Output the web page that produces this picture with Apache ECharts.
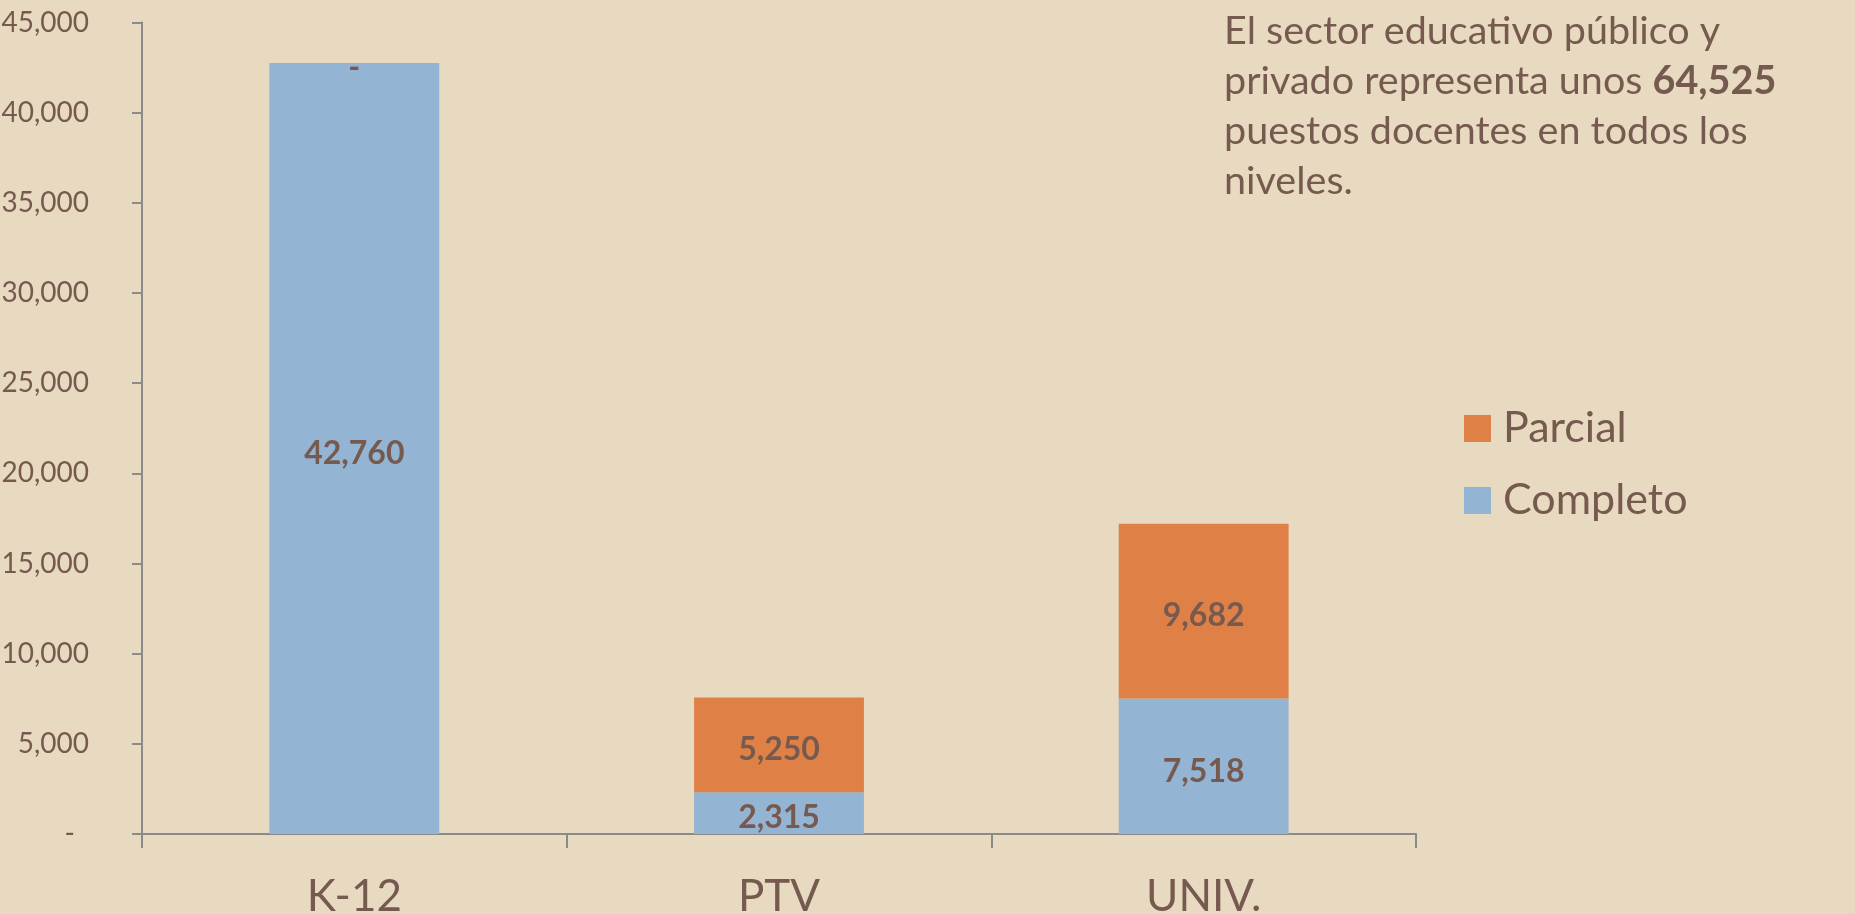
<!DOCTYPE html>
<html>
<head>
<meta charset="utf-8">
<script src="https://cdn.jsdelivr.net/npm/echarts@6/dist/echarts.min.js"></script>
<style>
    html, body { margin: 0; padding: 0; background: #e8dac0; }
    #chart { width: 1855px; height: 914px; }
</style>
</head>
<body>
<div id="chart"></div>
<script>
// datos del gráfico
const categories = ['K-12', 'PTV', 'UNIV.'];
const completo = [42760, 2315, 7518];
const parcial = [0, 5250, 9682];
const seriesNames = ['Completo', 'Parcial'];
const noteLines = [
    'El sector educativo público y',
    'privado representa unos {b|64,525}',
    'puestos docentes en todos los',
    'niveles.'
];

const textColor = '#765a50';
const fontFamily = 'Lato, "Open Sans", sans-serif';

// formato contable: cero se muestra como guion
function fmt(v) {
    if (v === 0) return '-';
    return v.toLocaleString('en-US');
}

const chart = echarts.init(document.getElementById('chart'));

const barLabel = {
    show: true,
    position: 'inside',
    offset: [0, 5],
    fontSize: 32,
    fontWeight: 'bold',
    color: textColor,
    fontFamily: fontFamily,
    formatter: p => fmt(p.value)
};

const option = {
    backgroundColor: '#e8dac0',
    animation: false,
    textStyle: { fontFamily: fontFamily, color: textColor },
    grid: { left: 142, top: 22.5, right: 439, bottom: 80, containLabel: false, outerBoundsMode: 'none' },
    legend: {
        data: ['Parcial', 'Completo'],
        orient: 'vertical',
        left: 1459,
        top: 402,
        icon: 'rect',
        itemWidth: 27,
        itemHeight: 27,
        itemGap: 29,
        selectedMode: false,
        textStyle: { fontSize: 43, color: textColor, fontFamily: fontFamily, padding: [0, 0, 0, 7] }
    },
    xAxis: {
        type: 'category',
        data: categories,
        axisLine: { lineStyle: { color: '#8a8a8a', width: 2 } },
        axisTick: { show: true, length: 14, lineStyle: { color: '#8a8a8a', width: 2 } },
        axisLabel: { fontSize: 44, color: textColor, margin: 41, fontFamily: fontFamily }
    },
    yAxis: {
        type: 'value',
        min: 0,
        max: 45000,
        interval: 5000,
        splitLine: { show: false },
        axisLine: { show: true, lineStyle: { color: '#8a8a8a', width: 2 } },
        axisTick: { show: true, length: 10, lineStyle: { color: '#8a8a8a', width: 2 } },
        axisLabel: {
            fontSize: 28,
            color: textColor,
            margin: 53,
            fontFamily: fontFamily,
            formatter: function (v) { return v === 0 ? '{d|-}' : fmt(v); },
            rich: { d: { fontSize: 28, color: textColor, padding: [0, 14, 0, 0], fontFamily: fontFamily } }
        }
    },
    series: [
        {
            name: seriesNames[0],
            type: 'bar',
            stack: 'total',
            barWidth: '40%',
            data: completo,
            itemStyle: { color: '#94b4d4' },
            label: barLabel
        },
        {
            name: seriesNames[1],
            type: 'bar',
            stack: 'total',
            barWidth: '40%',
            data: parcial,
            itemStyle: { color: '#df8046' },
            label: barLabel
        }
    ],
    graphic: [{
        type: 'text',
        left: 1224,
        top: 6,
        style: {
            text: noteLines.join('\n'),
            fontSize: 39.5,
            lineHeight: 50,
            fill: textColor,
            fontFamily: fontFamily,
            rich: {
                b: { fontSize: 39.5, fontWeight: 'bold', fill: textColor, fontFamily: fontFamily, lineHeight: 50 }
            }
        }
    }]
};

chart.setOption(option);
</script>
</body>
</html>
